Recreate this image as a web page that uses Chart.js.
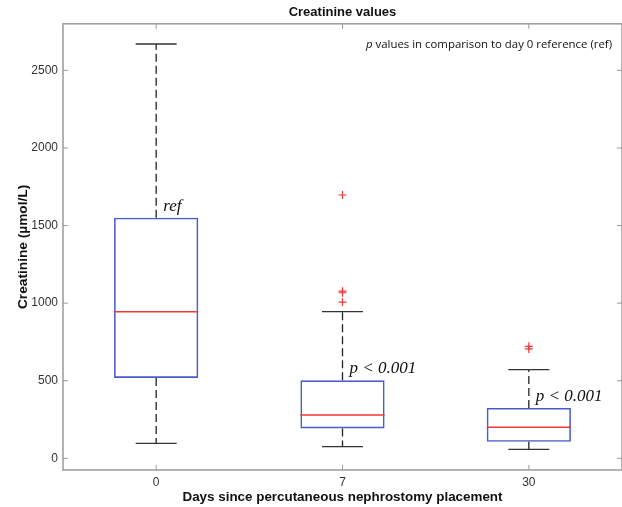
<!DOCTYPE html>
<html>
<head>
<meta charset="utf-8">
<script src="https://cdn.jsdelivr.net/npm/chart.js@4"></script>
<style>
  html, body { margin: 0; padding: 0; background: #fff; }
  #wrap { width: 622px; height: 507px; }
</style>
</head>
<body>
<div id="wrap"><canvas id="boxChart"></canvas></div>
<script>
// days since placement
var days = ['0', '7', '30'];
// box stats (µmol/L)
var whiskerLow  = [96, 75, 58];
var quart1      = [518, 193, 107];
var medians     = [945, 280, 201];
var quart3      = [1551, 503, 325];
var whiskerHigh = [2670, 945, 572];
// outliers ('+' markers)
var outlierDay = ['7', '7', '7', '7', '30', '30'];
var outlierVal = [1007, 1067, 1077, 1697, 705, 722];
// labels above the boxes
var pLabels = ['ref', 'p < 0.001', 'p < 0.001'];
var yTicks = [0, 500, 1000, 1500, 2000, 2500];

var boxBlue = '#4a5ccc';
var medRed = '#f03838';
var axisGray = '#9b9b9b';

var boxParts = {
    id: 'boxParts',
    afterDatasetsDraw: function(chart) {
        var c = chart.ctx, xs = chart.scales.x, ys = chart.scales.y, a = chart.chartArea;
        var step = xs.getPixelForValue(1) - xs.getPixelForValue(0);
        c.save();
        days.forEach(function(d, i) {
            var cx = xs.getPixelForValue(i);
            var capW = step * 0.11, boxW = step * 0.226;
            // dashed whiskers
            c.strokeStyle = '#222';
            c.lineWidth = 1.3;
            c.setLineDash([8, 4]);
            c.beginPath();
            c.moveTo(cx, ys.getPixelForValue(quart3[i]));
            c.lineTo(cx, ys.getPixelForValue(whiskerHigh[i]));
            c.moveTo(cx, ys.getPixelForValue(quart1[i]));
            c.lineTo(cx, ys.getPixelForValue(whiskerLow[i]));
            c.stroke();
            c.setLineDash([]);
            // caps
            c.strokeStyle = '#333';
            c.beginPath();
            var yh = ys.getPixelForValue(whiskerHigh[i]), yl = ys.getPixelForValue(whiskerLow[i]);
            c.moveTo(cx - capW, yh); c.lineTo(cx + capW, yh);
            c.moveTo(cx - capW, yl); c.lineTo(cx + capW, yl);
            c.stroke();
            // median
            c.strokeStyle = medRed;
            c.lineWidth = 1.5;
            var ym = ys.getPixelForValue(medians[i]);
            c.beginPath();
            c.moveTo(cx - boxW, ym); c.lineTo(cx + boxW, ym);
            c.stroke();
            // p-value / ref label
            c.fillStyle = '#111';
            c.font = 'italic 17px "Liberation Serif", "DejaVu Serif", serif';
            c.textAlign = 'left';
            c.textBaseline = 'alphabetic';
            c.fillText(pLabels[i], cx + 7, ys.getPixelForValue(quart3[i]) - 7);
        });
        // axes box and inward ticks
        c.strokeStyle = axisGray;
        c.lineWidth = 1.5;
        c.strokeRect(a.left, a.top, a.right - a.left, a.bottom - a.top);
        c.lineWidth = 1;
        c.beginPath();
        days.forEach(function(d, i) {
            var x = xs.getPixelForValue(i);
            c.moveTo(x, a.bottom); c.lineTo(x, a.bottom - 5);
            c.moveTo(x, a.top); c.lineTo(x, a.top + 5);
        });
        yTicks.forEach(function(v) {
            var y = ys.getPixelForValue(v);
            c.moveTo(a.left, y); c.lineTo(a.left + 5, y);
            c.moveTo(a.right, y); c.lineTo(a.right - 5, y);
        });
        c.stroke();
        // note in the top-right corner
        c.fillStyle = '#111';
        c.textAlign = 'right';
        c.textBaseline = 'middle';
        c.font = '11.4px "Open Sans", "Liberation Sans", sans-serif';
        var rest = ' values in comparison to day 0 reference (ref)';
        var rx = a.right - 10, ry = a.top + 21;
        c.fillText(rest, rx, ry);
        var w = c.measureText(rest).width;
        c.font = 'italic 11.4px "Open Sans", "Liberation Sans", sans-serif';
        c.fillText('p', rx - w, ry);
        c.restore();
    }
};

var boxes = days.map(function(d, i) { return [quart1[i], quart3[i]]; });
var outliers = outlierDay.map(function(d, i) { return { x: d, y: outlierVal[i] }; });

new Chart(document.getElementById('boxChart'), {
    type: 'bar',
    data: {
        labels: days,
        datasets: [{
            label: 'IQR',
            data: boxes,
            backgroundColor: 'rgba(0,0,0,0)',
            borderColor: boxBlue,
            borderWidth: 1.6,
            borderSkipped: false,
            barPercentage: 0.452,
            categoryPercentage: 1
        }, {
            type: 'scatter',
            label: 'Outliers',
            data: outliers,
            pointStyle: 'cross',
            radius: 4,
            borderColor: medRed,
            borderWidth: 1.2,
            backgroundColor: medRed
        }]
    },
    options: {
        responsive: true,
        maintainAspectRatio: false,
        animation: false,
        layout: { autoPadding: false, padding: { left: 13, right: 0, top: 0, bottom: 0 } },
        plugins: {
            legend: { display: false },
            tooltip: { enabled: false },
            title: {
                display: true,
                fullSize: false,
                text: 'Creatinine values',
                color: '#111',
                font: { family: 'Liberation Sans', size: 13, weight: 'bold' },
                lineHeight: 1.1,
                padding: { top: 5, bottom: 3.2 }
            }
        },
        scales: {
            x: {
                type: 'category',
                offset: true,
                grid: { display: false, drawTicks: false },
                border: { display: false },
                ticks: { color: '#333', padding: 5, font: { family: 'Liberation Sans', size: 12 } },
                title: {
                    display: true,
                    text: 'Days since percutaneous nephrostomy placement',
                    color: '#111',
                    font: { family: 'Liberation Sans', size: 13.4, weight: 'bold' },
                    padding: { top: 0, bottom: 2 }
                },
                afterFit: function(s) { s.height = 37; }
            },
            y: {
                min: -75,
                max: 2800,
                grid: { display: false, drawTicks: false },
                border: { display: false },
                afterBuildTicks: function(s) { s.ticks = yTicks.map(function(v) { return { value: v }; }); },
                ticks: {
                    color: '#333',
                    padding: 5,
                    font: { family: 'Liberation Sans', size: 12 },
                    callback: function(v) { return String(v); }
                },
                title: {
                    display: true,
                    text: 'Creatinine (µmol/L)',
                    color: '#111',
                    font: { family: 'Liberation Sans', size: 13.7, weight: 'bold' },
                    padding: { top: 2, bottom: 0 }
                },
                afterFit: function(s) { s.width = 50; }
            }
        }
    },
    plugins: [boxParts]
});
</script>
</body>
</html>
